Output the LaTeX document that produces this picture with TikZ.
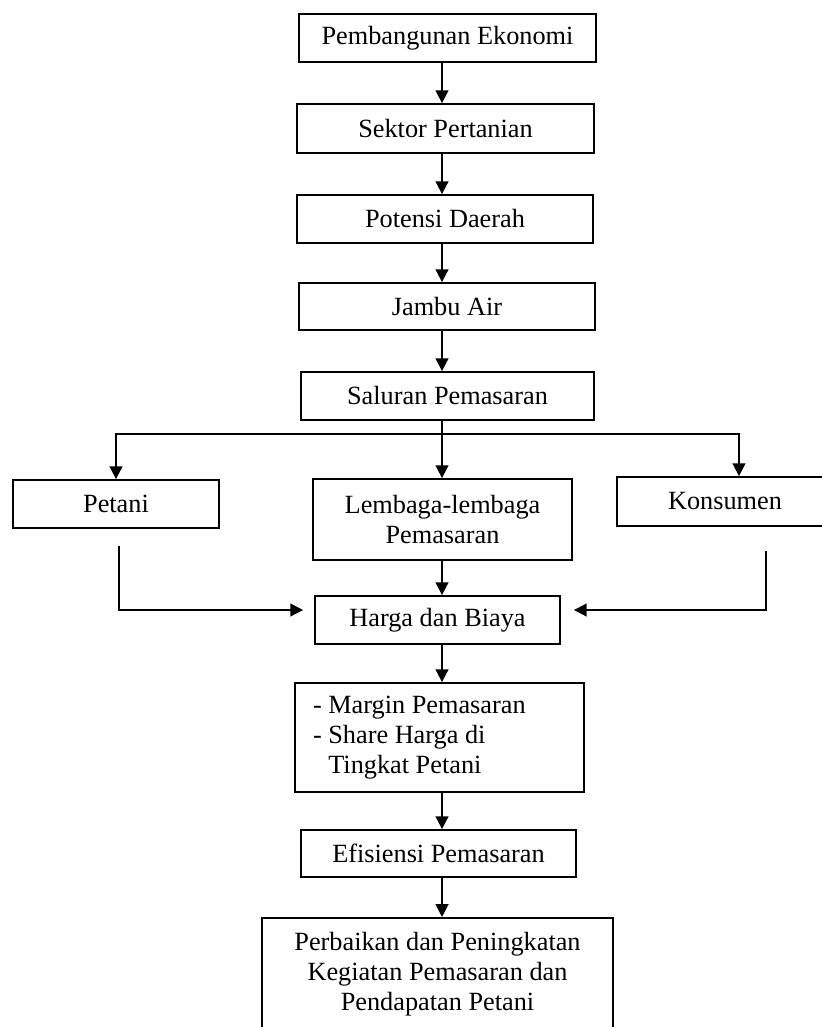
\documentclass[tikz,border=0pt]{standalone}
\usepackage{fontspec}
\setmainfont{Liberation Serif}
\usetikzlibrary{arrows.meta, calc}

\begin{document}
\begin{tikzpicture}[
    x=0.25mm, y=-0.25mm,
    line width=0.45mm,
    >={Triangle[length=3.2mm, width=3.2mm]},
    box/.style={draw, rectangle, inner sep=0pt, align=center,
        font=\fontsize{18.7}{21.3}\selectfont}]

    \useasboundingbox (0,0) rectangle (821,1027);

    % main chain
    \node[box, minimum width=74.25mm, minimum height=12mm] (eko) at (447.5,38) {Pembangunan Ekonomi};
    \node[box, minimum width=74.25mm, minimum height=12.25mm] (sektor) at (445.5,128.5) {Sektor Pertanian};
    \node[box, minimum width=74mm, minimum height=12mm] (potensi) at (445,219) {Potensi Daerah};
    \node[box, minimum width=74mm, minimum height=11.75mm] (jambu) at (447,306.5) {Jambu Air};
    \node[box, minimum width=73.25mm, minimum height=12mm] (saluran) at (447.5,396) {Saluran Pemasaran};

    % branches
    \node[box, minimum width=51.5mm, minimum height=12mm] (petani) at (116,504) {Petani};
    \node[box, minimum width=64.75mm, minimum height=20.25mm] (lembaga) at (442.5,519.5) {Lembaga-lembaga\\Pemasaran};
    \node[box, minimum width=54mm, minimum height=12.25mm] (konsumen) at (725,501.5) {Konsumen};

    % results
    \node[box, minimum width=61.25mm, minimum height=12mm] (harga) at (437.5,620) {Harga dan Biaya};
    \node[box, align=flush left, text width=63.25mm, inner xsep=4.5mm, minimum height=27.25mm] (margin) at (439.5,737.5)
        {- Margin Pemasaran\\- Share Harga di\\\phantom{-~}Tingkat Petani};
    \node[box, minimum width=68.75mm, minimum height=11.75mm] (efisiensi) at (438.5,853.5) {Efisiensi Pemasaran};
    \node[box, anchor=north, minimum width=87.75mm, minimum height=28mm] (perbaikan) at (437.5,917)
        {Perbaikan dan Peningkatan\\Kegiatan Pemasaran dan\\Pendapatan Petani};

    % arrows
    \coordinate (split) at (442,434);
    \draw[->] (eko.south -| split) -- (split |- sektor.north);
    \draw[->] (sektor.south -| split) -- (split |- potensi.north);
    \draw[->] (potensi.south -| split) -- (split |- jambu.north);
    \draw[->] (jambu.south -| split) -- (split |- saluran.north);

    \draw (saluran.south -| split) -- (split);
    \draw[->] (split) -| (petani.north);
    \draw[->] (split) -- (split |- lembaga.north);
    \draw[->] (split) -| ($(konsumen.north)+(14,0)$);

    % into harga dan biaya
    \draw[->] ($(petani.south)+(3,17)$) |- ($(harga.west)+(-11,-10)$);
    \draw[->] (lembaga.south -| split) -- (split |- harga.north);
    \draw[->] ($(konsumen.south)+(41,24)$) |- ($(harga.east)+(13,-10)$);

    \draw[->] (harga.south -| split) -- (split |- margin.north);
    \draw[->] (margin.south -| split) -- (split |- efisiensi.north);
    \draw[->] (efisiensi.south -| split) -- (split |- perbaikan.north);

\end{tikzpicture}
\end{document}
